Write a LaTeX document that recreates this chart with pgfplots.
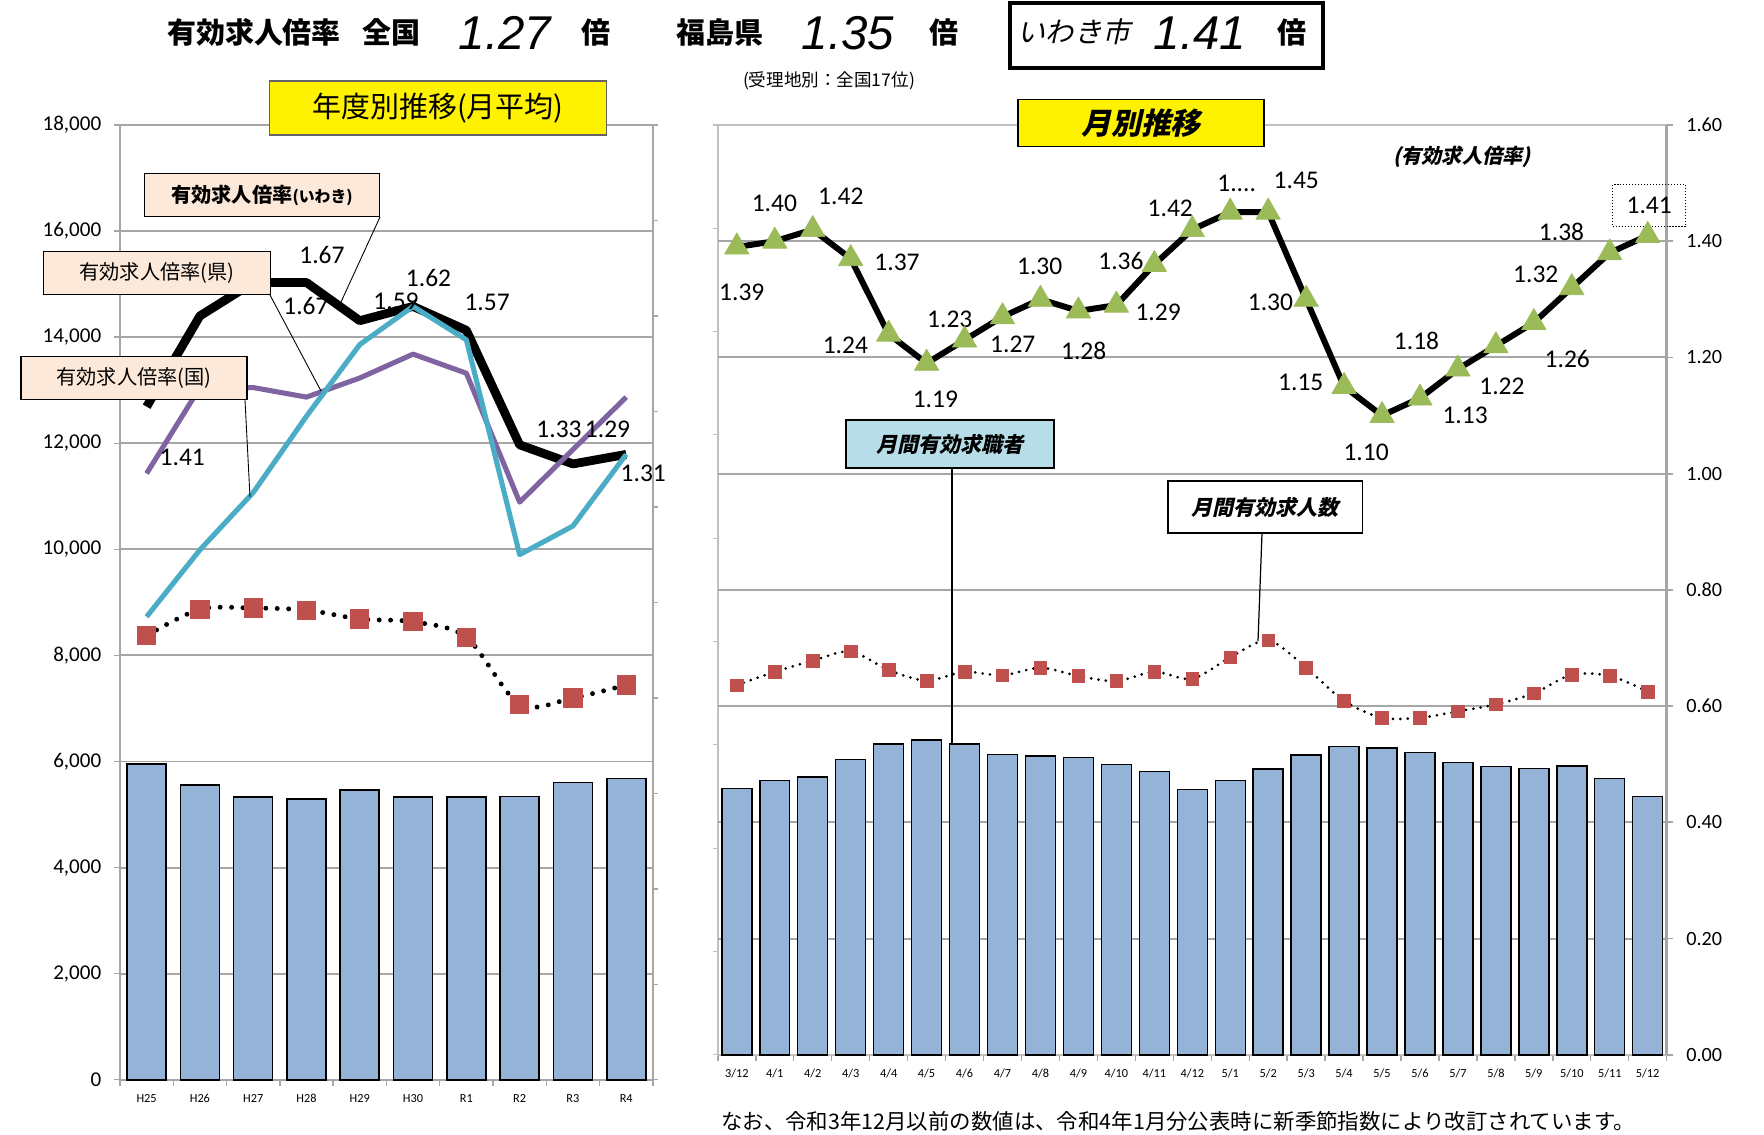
\documentclass[border=0pt]{standalone}
\usepackage{fontspec}
\setmainfont{Carlito}
\newfontfamily\jp{Noto Sans CJK JP}
\newfontfamily\jpsl{Noto Sans CJK JP}[FakeSlant=0.22]
\newfontfamily\arial{Liberation Sans}
\usepackage{pgfplots}
\usepackage{pgfplotstable}
\pgfplotsset{compat=1.18}

\newcommand{\fs}[1]{\fontsize{#1}{#1}\selectfont}

\definecolor{barblue}{HTML}{95B3D7}
\definecolor{sqred}{HTML}{C0504D}
\definecolor{trigreen}{HTML}{9BBB59}
\definecolor{cyanl}{HTML}{4BACC6}
\definecolor{purp}{HTML}{8064A2}
\definecolor{peach}{HTML}{FDE9D9}
\definecolor{lblue}{HTML}{B7DEE8}
\definecolor{gridgray}{HTML}{A6A6A6}

% fiscal-year averages: seekers, openings, ratio iwaki / prefecture / nation
\pgfplotstableread{
i seek offer iwaki ken kuni
0 5950 8374 1.41 1.27 0.97
1 5557 8870 1.60 1.45 1.11
2 5328 8893 1.67 1.45 1.23
3 5290 8855 1.67 1.43 1.39
4 5458 8687 1.59 1.47 1.54
5 5328 8634 1.62 1.52 1.62
6 5328 8344 1.57 1.48 1.55
7 5344 7076 1.33 1.21 1.10
8 5603 7198 1.29 1.32 1.16
9 5679 7443 1.31 1.43 1.31
}\yeartable

% monthly: seekers, openings, ratio
\pgfplotstableread{
i seek offer ratio
0 5160 7155 1.39
1 5310 7414 1.40
2 5378 7628 1.42
3 5715 7808 1.37
4 6019 7448 1.24
5 6098 7245 1.19
6 6019 7414 1.23
7 5816 7346 1.27
8 5783 7493 1.30
9 5760 7335 1.28
10 5625 7234 1.29
11 5479 7414 1.36
12 5141 7279 1.42
13 5310 7695 1.45
14 5535 8021 1.45
15 5800 7493 1.30
16 5974 6851 1.15
17 5940 6525 1.10
18 5850 6525 1.13
19 5659 6649 1.18
20 5580 6784 1.22
21 5546 6998 1.26
22 5587 7358 1.32
23 5344 7335 1.38
24 4995 7031 1.41
}\monthtable

\begin{document}
\begin{tikzpicture}[x=0.02cm,y=-0.02cm,lbl/.style={font=\fs{14.5},inner sep=1pt}]
\path[use as bounding box] (0,0) rectangle (1764,1135);

%%%% left chart: yearly
\begin{axis}[
    at={(2.4cm,-21.6cm)}, anchor=south west, scale only axis,
    width=10.66cm, height=19.1cm,
    xmin=-0.5, xmax=9.5, ymin=0, ymax=18000,
    scaled y ticks=false,
    ytick={0,2000,...,18000}, ytick pos=left,
    xtick={0,...,9}, xticklabels={H25,H26,H27,H28,H29,H30,R1,R2,R3,R4},
    xtick pos=bottom,
    minor xtick={-0.5,0.5,...,9.5},
    tick align=outside, major tick length=0.12cm, minor tick length=0.12cm,
    every major x tick/.append style={draw=none},
    every minor x tick/.append style={gridgray, line width=0.8pt},
    every major y tick/.append style={gridgray, line width=0.8pt},
    ymajorgrids, grid style={gridgray, line width=1.1pt},
    axis line style={gridgray, line width=1pt},
    yticklabel style={font=\fs{12}, xshift=-0.13cm},
    xticklabel style={font=\fs{7}, yshift=-0.05cm},
    /pgf/number format/assume math mode=true,
    clip=false,
]
\addplot[ybar, bar width=0.78cm, fill=barblue, draw=black, line width=0.9pt]
    table[x=i,y=seek]{\yeartable};
\addplot[black, line width=2.8pt, dash pattern=on 0pt off 6.5pt, line cap=round,
    smooth, tension=0.5, mark=square*, mark size=5.2pt,
    mark options={solid, fill=sqred, draw=sqred, line width=0.5pt}]
    table[x=i,y=offer]{\yeartable};
\end{axis}

\begin{axis}[
    at={(2.4cm,-21.6cm)}, anchor=south west, scale only axis,
    width=10.66cm, height=19.1cm,
    xmin=-0.5, xmax=9.5, ymin=0, ymax=2,
    axis x line=none, axis y line*=right,
    ytick={0,0.2,0.4,0.6,0.8,1,1.2,1.4,1.6,1.8,2}, yticklabels={},
    tick align=outside, major tick length=0.1cm,
    every major y tick/.append style={gridgray, line width=0.8pt},
    axis line style={gridgray, line width=1pt},
    clip=false,
]
\addplot[black, line width=5pt, line join=round] table[x=i,y=iwaki]{\yeartable};
\addplot[purp, line width=2.9pt, line join=round] table[x=i,y=ken]{\yeartable};
\addplot[cyanl, line width=2.9pt, line join=round] table[x=i,y=kuni]{\yeartable};
\node[lbl] at (axis cs:0.67,1.303) {1.41};
\node[lbl] at (axis cs:3.29,1.727) {1.67};
\node[lbl] at (axis cs:2.99,1.621) {1.67};
\node[lbl] at (axis cs:5.29,1.68) {1.62};
\node[lbl] at (axis cs:4.68,1.63) {1.59};
\node[lbl] at (axis cs:6.39,1.628) {1.57};
\node[lbl] at (axis cs:7.74,1.362) {1.33};
\node[lbl] at (axis cs:8.65,1.362) {1.29};
\node[lbl] at (axis cs:9.32,1.27) {1.31};
\end{axis}

%%%% right chart: monthly
\begin{axis}[
    at={(14.36cm,-21.1cm)}, anchor=south west, scale only axis,
    width=18.98cm, height=18.6cm,
    xmin=-0.5, xmax=24.5, ymin=0, ymax=18000,
    scaled y ticks=false,
    ytick={0,2000,...,18000}, yticklabels={}, ytick pos=left,
    extra y ticks={2250,4500,6750,9000,11250,13500,15750},
    extra y tick labels={},
    extra y tick style={grid=major, major tick length=0pt},
    grid style={gridgray, line width=1.1pt},
    xtick={0,...,24},
    xticklabels={3/12,4/1,4/2,4/3,4/4,4/5,4/6,4/7,4/8,4/9,4/10,4/11,4/12,
                 5/1,5/2,5/3,5/4,5/5,5/6,5/7,5/8,5/9,5/10,5/11,5/12},
    xtick pos=bottom,
    minor xtick={-0.5,0.5,...,24.5},
    tick align=outside, major tick length=0.1cm, minor tick length=0.12cm,
    every major x tick/.append style={draw=none},
    every minor x tick/.append style={gridgray, line width=0.8pt},
    every major y tick/.append style={gridgray!70, line width=0.6pt},
    axis line style={gridgray!70, line width=0.8pt},
    x axis line style={gridgray, line width=1.4pt},
    xticklabel style={font=\fs{7}, yshift=-0.05cm},
    clip=false,
]
\addplot[ybar, bar width=0.6cm, fill=barblue, draw=black, line width=0.8pt]
    table[x=i,y=seek]{\monthtable};
\addplot[black, line width=1.7pt, dash pattern=on 0pt off 4.2pt, line cap=round,
    smooth, tension=0.5, mark=square*, mark size=3.6pt,
    mark options={solid, fill=sqred, draw=sqred, line width=0.4pt}]
    table[x=i,y=offer]{\monthtable};
\end{axis}

\begin{axis}[
    at={(14.36cm,-21.1cm)}, anchor=south west, scale only axis,
    width=18.98cm, height=18.6cm,
    xmin=-0.5, xmax=24.5, ymin=0, ymax=1.6,
    axis x line=none, axis y line*=right,
    ytick={0,0.2,0.4,0.6,0.8,1,1.2,1.4,1.6},
    yticklabel style={font=\fs{11.5}, xshift=0.15cm, /pgf/number format/.cd, fixed, fixed zerofill, precision=2},
    /pgf/number format/assume math mode=true,
    tick align=outside, major tick length=0.12cm,
    every major y tick/.append style={gridgray, line width=1pt},
    axis line style={gridgray, line width=1.4pt},
    clip=false,
]
\addplot[black, line width=3.4pt, line join=round, mark=triangle*, mark size=8pt,
    mark options={fill=trigreen, draw=trigreen, line width=0.4pt}]
    table[x=i,y=ratio]{\monthtable};
\node[lbl] at (axis cs:0.13,1.312) {1.39};
\node[lbl] at (axis cs:0.99,1.466) {1.40};
\node[lbl] at (axis cs:2.74,1.478) {1.42};
\node[lbl] at (axis cs:4.22,1.364) {1.37};
\node[lbl] at (axis cs:2.86,1.221) {1.24};
\node[lbl] at (axis cs:5.23,1.128) {1.19};
\node[lbl] at (axis cs:5.61,1.265) {1.23};
\node[lbl] at (axis cs:7.27,1.223) {1.27};
\node[lbl] at (axis cs:7.98,1.356) {1.30};
\node[lbl] at (axis cs:9.14,1.211) {1.28};
\node[lbl] at (axis cs:11.10,1.277) {1.29};
\node[lbl] at (axis cs:10.12,1.366) {1.36};
\node[lbl] at (axis cs:11.42,1.457) {1.42};
\node[lbl] at (axis cs:13.17,1.499) {1....};
\node[lbl] at (axis cs:14.74,1.505) {1.45};
\node[lbl] at (axis cs:14.06,1.294) {1.30};
\node[lbl] at (axis cs:14.86,1.157) {1.15};
\node[lbl] at (axis cs:16.58,1.037) {1.10};
\node[lbl] at (axis cs:19.19,1.101) {1.13};
\node[lbl] at (axis cs:17.91,1.228) {1.18};
\node[lbl] at (axis cs:20.16,1.151) {1.22};
\node[lbl] at (axis cs:21.88,1.197) {1.26};
\node[lbl] at (axis cs:21.05,1.343) {1.32};
\node[lbl] at (axis cs:21.73,1.416) {1.38};
\node[lbl, draw=black, densely dotted, line width=0.7pt, minimum width=1.46cm, minimum height=0.84cm]
    at (axis cs:24.04,1.461) {1.41};
\end{axis}

%%%% headline
\node[font=\jp\bfseries\fs{16.5}] at (254,32) {有効求人倍率};
\node[font=\jp\bfseries\fs{16.5}] at (391,32) {全国};
\node[font=\arial\itshape\fs{27}] at (505,33) {1.27};
\node[font=\jp\bfseries\fs{16.5}] at (596,32) {倍};
\node[font=\jp\bfseries\fs{16.5}] at (720,32) {福島県};
\node[font=\arial\itshape\fs{27}] at (848,33) {1.35};
\node[font=\jp\bfseries\fs{16.5}] at (944,32) {倍};
\draw[line width=2.3pt] (1010,3) rectangle (1323,68);
\node[font=\jpsl\fs{16}] at (1074,32) {いわき市};
\node[font=\arial\itshape\fs{27}] at (1200,33) {1.41};
\node[font=\jp\bfseries\fs{16.5}] at (1292,32) {倍};
\node[font=\jp\fs{10}] at (829,81) {(受理地別：全国17位)};

%%%% boxes and callouts
\node[draw=gridgray!60!black, line width=0.8pt, fill=yellow, minimum width=6.74cm,
    minimum height=1.08cm, font=\jp\fs{16.5}] at (438,108) {年度別推移(月平均)};
\node[draw=black, line width=0.8pt, fill=yellow, minimum width=4.92cm,
    minimum height=0.94cm, font=\jpsl\bfseries\fs{17}] at (1141,123) {月別推移};
\node[font=\jpsl\bfseries\fs{11.5}] at (1462,157) {(有効求人倍率)};

\draw[line width=0.5pt] (380,217) -- (341,302);
\draw[line width=0.5pt] (270,295) -- (321,391);
\draw[line width=0.5pt] (245,400) -- (250,497);
\node[draw=black, line width=0.6pt, fill=peach, minimum width=4.7cm, minimum height=0.86cm,
    font=\jp\bfseries\fs{11.5}] at (262,195) {有効求人倍率{\fs{9}(いわき)}};
\node[draw=black, line width=0.6pt, fill=peach, minimum width=4.54cm, minimum height=0.86cm,
    font=\jp\fs{11.5}] at (157,273) {有効求人倍率(県)};
\node[draw=black, line width=0.6pt, fill=peach, minimum width=4.52cm, minimum height=0.86cm,
    font=\jp\fs{11.5}] at (134,378) {有効求人倍率(国)};

\draw[line width=0.7pt] (952,468) -- (952,745);
\draw[line width=0.7pt] (1262,533) -- (1258,641);
\node[draw=black, line width=1.1pt, fill=lblue, minimum width=4.16cm, minimum height=0.96cm,
    font=\jpsl\bfseries\fs{12}] at (950,444) {月間有効求職者};
\node[draw=black, line width=1.1pt, fill=white, minimum width=3.9cm, minimum height=1.04cm,
    font=\jpsl\bfseries\fs{12}] at (1265,507) {月間有効求人数};

\node[font=\jp\fs{12.2}] at (1178,1121)
    {なお、令和3年12月以前の数値は、令和4年1月分公表時に新季節指数により改訂されています。};
\end{tikzpicture}
\end{document}
